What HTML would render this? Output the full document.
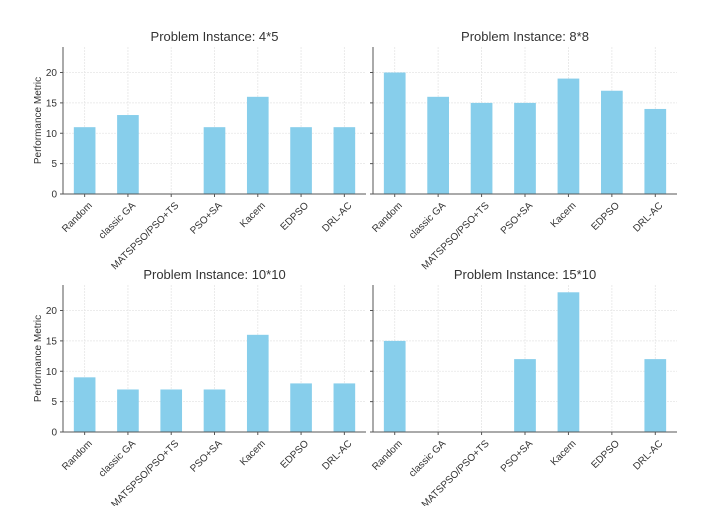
<!DOCTYPE html>
<html><head><meta charset="utf-8"><style>
body{margin:0;background:#fff;}
svg{display:block;font-family:"Liberation Sans","DejaVu Sans",sans-serif;}
</style></head><body>
<svg id="fig" width="717" height="506" viewBox="0 0 717 506"></svg>
<script>
const categories = ["Random","classic GA","MATSPSO/PSO+TS","PSO+SA","Kacem","EDPSO","DRL-AC"];
const titles = ["Problem Instance: 4*5","Problem Instance: 8*8","Problem Instance: 10*10","Problem Instance: 15*10"];
const values45 = [11,13,0,11,16,11,11];
const values88 = [20,16,15,15,19,17,14];
const values1010 = [9,7,7,7,16,8,8];
const values1510 = [15,0,0,12,23,0,12];
const yTicks = [0,5,10,15,20];
const series = [values45, values88, values1010, values1510];
const panels = [{l:63,r:366,t:47,b:194},{l:373,r:677,t:47,b:194},{l:63,r:366,t:285,b:432},{l:373,r:677,t:285,b:432}];
const NS="http://www.w3.org/2000/svg";
const svg=document.getElementById('fig');
function mk(tag,attrs,parent){const e=document.createElementNS(NS,tag);for(const k in attrs)e.setAttribute(k,attrs[k]);(parent||svg).appendChild(e);return e;}
const ymax=24.2;
panels.forEach((p,pi)=>{
  const g=mk('g',{});
  
  
  const xs=i=>p.l+(i+0.5)*(p.r-p.l)/categories.length;
  const ys=v=>p.b-v*(p.b-p.t)/ymax;
  yTicks.forEach(t=>{
    const ln=mk('line',{x1:p.l,x2:p.r,y1:ys(t),y2:ys(t),stroke:'#e6e6e6','stroke-width':0.8,'stroke-dasharray':'2,1'},g);
    
    
  });
  categories.forEach((c,i)=>{
    const ln=mk('line',{x1:xs(i),x2:xs(i),y1:p.t,y2:p.b,stroke:'#e6e6e6','stroke-width':0.8,'stroke-dasharray':'2,1'},g);
    
    
  });
  const bw=0.5*(p.r-p.l)/categories.length;
  series[pi].forEach((v,i)=>{
    if(v<=0)return;
    const r=mk('rect',{x:xs(i)-bw/2,y:ys(v),width:bw,height:ys(0)-ys(v),fill:'#87ceeb'},g);
    
    
  });
  const sp=mk('path',{d:`M${p.l},${p.t}V${p.b}H${p.r}`,fill:'none',stroke:'#555','stroke-width':1},g);
  
  
  yTicks.forEach(t=>{
    mk('line',{x1:p.l-3,x2:p.l,y1:ys(t),y2:ys(t),stroke:'#555'},g);
    if(pi%2===0){
      const tx=mk('text',{x:p.l-6,y:ys(t)+3.5,'text-anchor':'end','font-size':10,fill:'#333'},g);
      tx.textContent=t;
      
      
    }
  });
  categories.forEach((c,i)=>{
    mk('line',{x1:xs(i),x2:xs(i),y1:p.b,y2:p.b+3,stroke:'#555'},g);
    const x=xs(i)+8,y=p.b+12;
    const tx=mk('text',{x:x,y:y,'text-anchor':'end','font-size':10,fill:'#333',transform:`rotate(-45 ${x} ${y})`},g);
    tx.textContent=c;
    
    
  });
  const tt=mk('text',{x:(p.l+p.r)/2,y:p.t-6,'text-anchor':'middle','font-size':13,fill:'#333'},g);
  tt.textContent=titles[pi];
  
  
  if(pi%2===0){
    const yt=mk('text',{x:0,y:0,'text-anchor':'middle','font-size':10,fill:'#333',transform:`translate(${p.l-22},${(p.t+p.b)/2}) rotate(-90)`},g);
    yt.textContent='Performance Metric';
    
    
  }
});
</script>
</body></html>
